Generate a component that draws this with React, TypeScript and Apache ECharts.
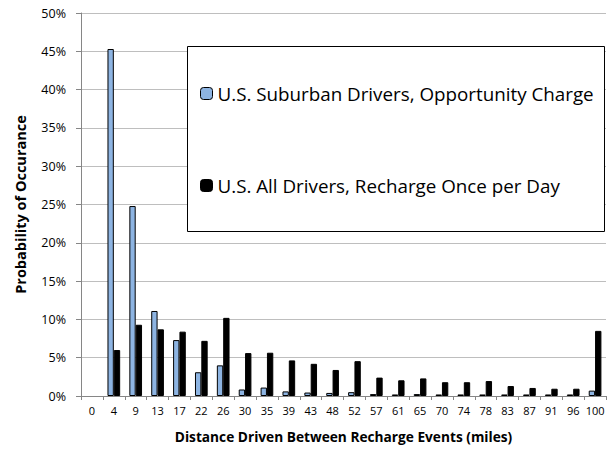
import React, { useEffect, useRef } from "react";
import * as echarts from "echarts";

const categories = ["0", "4", "9", "13", "17", "22", "26", "30", "35", "39", "43", "48", "52", "57", "61", "65", "70", "74", "78", "83", "87", "91", "96", "100"];
const suburban = [0, 45.3, 24.8, 11.1, 7.3, 3.1, 4.0, 0.85, 1.1, 0.6, 0.45, 0.4, 0.5, 0.25, 0.2, 0.25, 0.2, 0.2, 0.2, 0.2, 0.2, 0.2, 0.2, 0.7];
const allDrivers = [0, 6.0, 9.3, 8.7, 8.4, 7.2, 10.2, 5.6, 5.65, 4.65, 4.2, 3.4, 4.55, 2.4, 2.05, 2.3, 1.8, 1.8, 1.95, 1.3, 1.05, 0.95, 0.95, 8.5];
const seriesNames = ["U.S. Suburban Drivers, Opportunity Charge", "U.S. All Drivers, Recharge Once per Day"];

const FONT = "Open Sans";
const hideZero = (arr: number[]) => arr.map((v) => (v === 0 ? null : v));

export default function App() {
  const ref = useRef<HTMLDivElement>(null);
  useEffect(() => {
    document.body.style.margin = "0";
    const chart = echarts.init(ref.current!, null, { renderer: "svg" });
    chart.setOption({
      animation: false,
      backgroundColor: "#ffffff",
      grid: { left: 81, right: 3, top: 13, bottom: 53, containLabel: false },
      xAxis: {
        type: "category",
        data: categories,
        name: "Distance Driven Between Recharge Events (miles)",
        nameLocation: "middle",
        nameGap: 33,
        nameTextStyle: { fontFamily: FONT, fontWeight: "bold", fontSize: 13.7, color: "#000" },
        axisLine: { lineStyle: { color: "#868686", width: 1 } },
        axisTick: { show: true, length: 4, lineStyle: { color: "#868686" }, alignWithLabel: false },
        axisLabel: { fontFamily: FONT, fontSize: 11, color: "#000", margin: 9, interval: 0 },
        splitLine: { show: false },
      },
      yAxis: {
        type: "value",
        min: 0,
        max: 50,
        interval: 5,
        name: "Probability of Occurance",
        nameLocation: "middle",
        nameGap: 53,
        nameTextStyle: { fontFamily: FONT, fontWeight: "bold", fontSize: 14.5, color: "#000" },
        axisLine: { show: true, lineStyle: { color: "#868686", width: 1 } },
        axisTick: { show: true, length: 5, lineStyle: { color: "#868686" } },
        axisLabel: { fontFamily: FONT, fontSize: 12.5, color: "#000", margin: 15, formatter: "{value}%" },
        splitLine: { show: true, lineStyle: { color: "#BEBEBE", width: 1 } },
      },
      legend: [
        {
          z: 60,
          left: 200,
          top: 84,
          padding: 0,
          itemWidth: 12,
          itemHeight: 12,
          itemGap: 0,
          data: [{ name: seriesNames[0], itemStyle: { color: "#8DB4E2", borderColor: "#000", borderWidth: 1 } }],
          textStyle: { fontFamily: FONT, fontSize: 18.8, color: "#000", lineHeight: 13 },
        },
        {
          z: 60,
          left: 200,
          top: 176,
          padding: 0,
          itemWidth: 12,
          itemHeight: 12,
          itemGap: 0,
          data: [{ name: seriesNames[1], itemStyle: { color: "#000", borderColor: "#000", borderWidth: 1 } }],
          textStyle: { fontFamily: FONT, fontSize: 18.8, color: "#000", lineHeight: 13 },
        },
      ],
      graphic: [
        {
          type: "rect",
          z: 50,
          shape: { x: 187.5, y: 46.5, width: 417, height: 185 },
          style: { fill: "#fff", stroke: "#000", lineWidth: 1 },
        },
      ],
      series: [
        {
          name: seriesNames[0],
          type: "bar",
          data: hideZero(suburban),
          barGap: "0%",
          barCategoryGap: "42%",
          itemStyle: { color: "#8DB4E2", borderColor: "#000", borderWidth: 1 },
        },
        {
          name: seriesNames[1],
          type: "bar",
          data: hideZero(allDrivers),
          barGap: "0%",
          barCategoryGap: "42%",
          itemStyle: { color: "#000", borderColor: "#000", borderWidth: 1 },
        },
      ],
    });
    return () => chart.dispose();
  }, []);
  return <div ref={ref} style={{ width: 609, height: 449 }} />;
}
